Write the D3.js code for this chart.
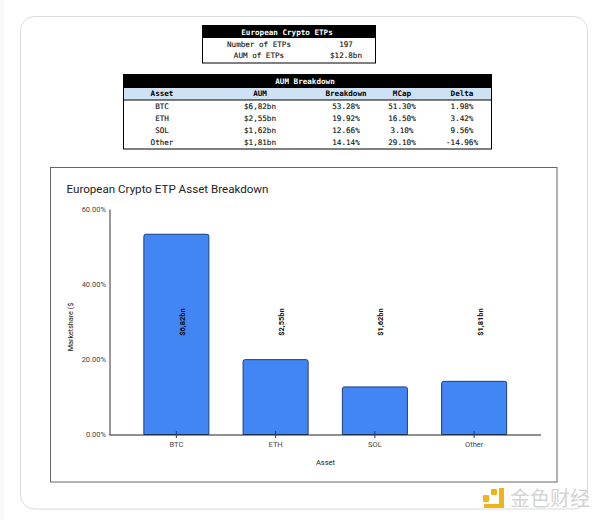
<!DOCTYPE html>
<html lang="en">
<head>
<meta charset="UTF-8">
<script src="https://d3js.org/d3.v7.min.js"></script>
<title>European Crypto ETP Asset Breakdown</title>
<style>
  html, body { margin: 0; padding: 0; background: #fff; }
  svg { display: block; }
  .mono { font-family: "DejaVu Sans Mono", monospace; font-size: 7.6px; fill: #111; stroke: #111; stroke-width: 0.12px; text-anchor: middle; dominant-baseline: central; }
  .mono.bold { font-weight: bold; fill: #000; stroke: none; }
  .mono.white { fill: #fff; stroke: none; font-weight: bold; }
  .axis text { font-family: Roboto, sans-serif; font-size: 7.5px; fill: #444; }
</style>
</head>
<body>
<div id="draw_here"></div>
<script>
const width = 600, height = 520;

// summary table
const summaryTitle = "European Crypto ETPs";
const summaryLabels = ["Number of ETPs", "AUM of ETPs"];
const summaryValues = ["197", "$12.8bn"];

// breakdown table
const breakdownTitle = "AUM Breakdown";
const breakdownHeaders = ["Asset", "AUM", "Breakdown", "MCap", "Delta"];
const assets = ["BTC", "ETH", "SOL", "Other"];
const aumLabels = ["$6,82bn", "$2,55bn", "$1,62bn", "$1,81bn"];
const breakdownLabels = ["53.28%", "19.92%", "12.66%", "14.14%"];
const mcapLabels = ["51.30%", "16.50%", "3.10%", "29.10%"];
const deltaLabels = ["1.98%", "3.42%", "9.56%", "-14.96%"];

// chart
const shares = [53.28, 19.92, 12.66, 14.14];
const yTicks = [0, 20, 40, 60];

const svg = d3.select("#draw_here").append("svg")
    .attr("width", width)
    .attr("height", height);

// faint page edge, then the outer card
svg.append("rect").attr("x", 0).attr("y", 0).attr("width", 4).attr("height", height).attr("fill", "#f8f8f8");
svg.append("rect")
    .attr("x", 20.5).attr("y", 16.5)
    .attr("width", 567).attr("height", 492.5)
    .attr("rx", 14)
    .attr("fill", "#fff")
    .attr("stroke", "#d9dcdc");

function monoText(x, y, str, cls) {
    svg.append("text")
        .attr("class", "mono " + (cls || ""))
        .attr("x", x).attr("y", y)
        .text(str);
}

// summary table
svg.append("rect").attr("x", 202.5).attr("y", 25).attr("width", 173).attr("height", 13).attr("fill", "#000");
svg.append("rect").attr("x", 202.5).attr("y", 25.5).attr("width", 173).attr("height", 37.5)
    .attr("fill", "none").attr("stroke", "#000");
monoText(287, 32, summaryTitle, "white");
summaryLabels.forEach((d, i) => {
    monoText(259, 44 + i * 11.7, d);
    monoText(346, 44 + i * 11.7, summaryValues[i]);
});

// breakdown table
const colX = [162, 260, 346, 402, 462];
const rowY = d3.scaleLinear().domain([0, 3]).range([106, 142]);
svg.append("rect").attr("x", 123).attr("y", 74).attr("width", 368.5).attr("height", 14).attr("fill", "#000");
svg.append("rect").attr("x", 123).attr("y", 88).attr("width", 368.5).attr("height", 12).attr("fill", "#cfe2f3");
svg.append("line").attr("x1", 123).attr("x2", 491.5).attr("y1", 100).attr("y2", 100).attr("stroke", "#000");
svg.append("rect").attr("x", 123.5).attr("y", 74.5).attr("width", 368).attr("height", 74.5)
    .attr("fill", "none").attr("stroke", "#000");
monoText(305, 81, breakdownTitle, "white");
breakdownHeaders.forEach((d, i) => monoText(colX[i], 93.5, d, "bold"));
[assets, aumLabels, breakdownLabels, mcapLabels, deltaLabels].forEach((col, c) => {
    col.forEach((d, i) => monoText(colX[c], rowY(i), d));
});

// chart frame
svg.append("rect")
    .attr("x", 50.5).attr("y", 167.5)
    .attr("width", 506.5).attr("height", 314.5)
    .attr("fill", "#fff")
    .attr("stroke", "#666");

svg.append("text")
    .attr("x", 66.5).attr("y", 193)
    .attr("font-family", "Roboto, sans-serif")
    .attr("font-size", 11.6)
    .attr("fill", "#222")
    .text("European Crypto ETP Asset Breakdown");

const x = d3.scaleBand()
    .domain(assets)
    .range([109.5, 541])
    .paddingInner(0.345)
    .paddingOuter(0.346);

const y = d3.scaleLinear()
    .domain([0, 60])
    .range([434.5, 209]);

// bars
svg.append("g")
    .selectAll("path")
    .data(shares)
    .join("path")
    .attr("d", (d, i) => {
        const x0 = x(assets[i]), x1 = x0 + x.bandwidth(), top = y(d), r = 2;
        return `M${x0},${y(0)}V${top + r}Q${x0},${top} ${x0 + r},${top}H${x1 - r}Q${x1},${top} ${x1},${top + r}V${y(0)}Z`;
    })
    .attr("fill", "#4285f4")
    .attr("stroke", "#1c3f7c")
    .attr("stroke-width", 1);

// x axis
const xAxis = svg.append("g")
    .attr("class", "axis")
    .attr("transform", `translate(0,${y(0)})`)
    .call(d3.axisBottom(x).tickSize(3.5).tickPadding(4).tickSizeOuter(0));
xAxis.select(".domain").attr("stroke", "#222").attr("d", "M109.5,0.5H541");
xAxis.selectAll(".tick line").attr("y1", -3.5).attr("stroke", "#1c3f7c");

// y axis
const yAxis = svg.append("g")
    .attr("class", "axis")
    .attr("transform", "translate(109.5,0)")
    .call(d3.axisLeft(y).tickValues(yTicks).tickFormat(d => d3.format(".2f")(d) + "%").tickSize(0).tickPadding(3.5));
yAxis.select(".domain").attr("stroke", "#333");

// rotated value labels
svg.append("g")
    .selectAll("text")
    .data(aumLabels)
    .join("text")
    .attr("transform", (d, i) => `translate(${x(assets[i]) + x.bandwidth() / 2 + 6},322) rotate(-90)`)
    .attr("text-anchor", "middle")
    .attr("dominant-baseline", "central")
    .attr("font-family", "Roboto, sans-serif")
    .attr("font-size", 7.5)
    .attr("font-weight", "bold")
    .attr("fill", "#111")
    .text(d => d);

// axis titles
svg.append("text")
    .attr("x", 325.5).attr("y", 464.5)
    .attr("text-anchor", "middle")
    .attr("font-family", "Roboto, sans-serif")
    .attr("font-size", 7.5)
    .attr("fill", "#222")
    .text("Asset");

svg.append("text")
    .attr("transform", "translate(72.5,327) rotate(-90)")
    .attr("text-anchor", "middle")
    .attr("font-family", "Roboto, sans-serif")
    .attr("font-size", 7.2)
    .attr("fill", "#222")
    .text("Marketshare ($");

// watermark
const mark = svg.append("g").attr("fill", "#f0b31a");
mark.append("rect").attr("x", 483).attr("y", 495).attr("width", 6).attr("height", 7).attr("rx", 1);
mark.append("rect").attr("x", 491).attr("y", 489).attr("width", 6).attr("height", 6).attr("rx", 1);
mark.append("path").attr("d", "M499,488H504V508H484V504H499Z");
svg.append("text")
    .attr("x", 510).attr("y", 506)
    .attr("font-family", "'Noto Sans CJK SC', sans-serif")
    .attr("font-size", 20)
    .attr("fill", "#d4d4d4")
    .text("金色财经");
</script>
</body>
</html>
